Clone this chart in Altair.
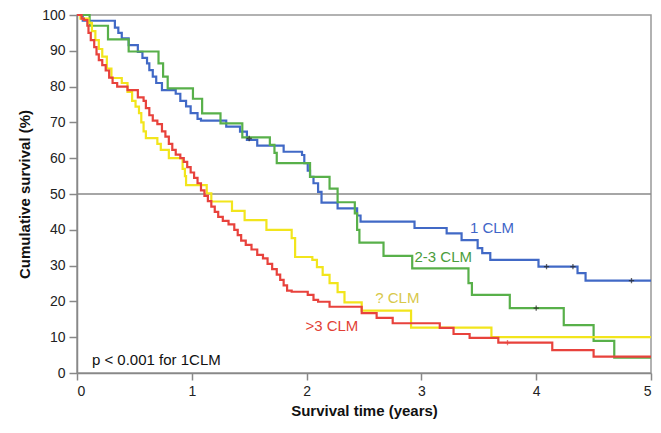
import altair as alt
import pandas as pd

# ---- data ----
blue_t = [0, 0.05, 0.33, 0.36, 0.39, 0.45, 0.53, 0.57, 0.61, 0.63, 0.66, 0.69, 0.74, 0.86, 0.9, 0.95, 0.99, 1.05, 1.08,
          1.3, 1.42, 1.48, 1.57, 1.8, 1.96, 1.98, 2.01, 2.03, 2.06, 2.1, 2.13, 2.27, 2.44, 2.47, 2.94, 3.22, 3.35,
          3.49, 3.53, 3.6, 4.02, 4.36, 4.43, 5.0]
blue_s = [100, 98.4, 96.5, 95, 93.5, 91.6, 89.7, 88, 86.5, 84.6, 82.8, 81, 79, 78, 76, 74.5, 72.6, 71, 70.5,
          68.8, 67.4, 65.1, 63.5, 61.8, 60.9, 58.6, 56.5, 54.8, 53, 50.6, 47.6, 46, 44, 42.3, 40.5, 39, 37.1,
          34.9, 33.5, 31.6, 29.7, 27.9, 25.8, 25.8]

green_t = [0, 0.11, 0.27, 0.45, 0.71, 0.75, 0.79, 1.01, 1.09, 1.25, 1.44, 1.68, 1.72, 1.74, 2.03, 2.2, 2.27, 2.42,
           2.44, 2.46, 2.67, 2.92, 3.41, 3.44, 3.77, 4.24, 4.5, 4.68, 5.0]
green_s = [100, 97, 93.2, 89.8, 86.5, 82.8, 79.5, 76.6, 72.5, 69.7, 65.8, 63.7, 61.5, 58.6, 54.8, 51.5, 47.7, 44.6,
           40, 36.4, 32.7, 29.2, 25.1, 21.8, 18.1, 13.4, 9, 4.3, 4.3]

red_t = [0, 0.04, 0.06, 0.09, 0.1, 0.12, 0.15, 0.17, 0.19, 0.22, 0.25, 0.28, 0.31, 0.35, 0.44, 0.53, 0.58, 0.6,
         0.63, 0.66, 0.7, 0.74, 0.77, 0.8, 0.83, 0.86, 0.9, 0.93, 0.96, 0.99, 1.02, 1.05, 1.08, 1.11, 1.14, 1.17,
         1.2, 1.23, 1.27, 1.32, 1.37, 1.4, 1.43, 1.47, 1.52, 1.57, 1.62, 1.66, 1.7, 1.74, 1.77, 1.8, 1.83, 1.87,
         2.01, 2.06, 2.1, 2.2, 2.48, 2.61, 2.75, 3.16, 3.28, 3.42, 3.67, 4.14, 4.5, 5.0]
red_s = [100, 99, 98.6, 97, 95, 93, 91, 89, 87.4, 86, 84.5, 82.5, 81, 80, 79, 77, 76, 74,
         72, 70.5, 69.5, 67.5, 66, 64, 62.3, 61, 60, 59, 57.5, 56, 54.5, 53, 51, 49.5, 48, 46.5,
         45, 43.6, 42.5, 41.5, 40, 38.5, 37, 35.8, 34.5, 33, 32, 30.5, 29, 27.5, 26, 24.5, 23, 22.7,
         21.8, 20.4, 19.9, 18.5, 16.7, 15.4, 13.9, 12.6, 10.9, 9.8, 8.5, 6.4, 4.6, 4.6]

yellow_t = [0, 0.03, 0.1, 0.13, 0.16, 0.19, 0.22, 0.26, 0.3, 0.39, 0.44, 0.48, 0.51, 0.54, 0.56, 0.58, 0.6, 0.7,
            0.73, 0.8, 0.92, 0.94, 0.95, 1.13, 1.17, 1.35, 1.46, 1.65, 1.87, 1.9, 2.05, 2.09, 2.14, 2.2, 2.27,
            2.33, 2.48, 2.91, 3.61, 5.0]
yellow_s = [100, 99, 97.8, 95.5, 93, 90.5, 88.4, 85, 82.4, 81, 78.5, 76, 74.4, 72.6, 70, 67.5, 65.6, 64,
            62.3, 60, 57, 55, 52.5, 50.2, 47.9, 45.3, 42.7, 40, 37.7, 32.4, 31.6, 29.6, 27.4, 25.1, 22.6,
            19.7, 17.4, 12.7, 10, 10]

series_names = ["1 CLM", "2-3 CLM", "? CLM", ">3 CLM"]
series_colors = ["#4169c6", "#58b04a", "#f2e51c", "#e8423c"]

censor_t = [1.5, 4.09, 4.32, 4.83, 4.0, 3.75]
censor_s = [65.5, 29.7, 29.7, 25.8, 18.1, 8.5]
censor_c = ["#222222", "#222222", "#222222", "#222222", "#222222", "#e8423c"]

label_text = ["1 CLM", "2-3 CLM", "? CLM", ">3 CLM"]
label_t = [3.615, 3.19, 2.79, 2.22]
label_s = [40.5, 32.4, 21.0, 13.1]
label_color = ["#3f66c8", "#4a9d3c", "#d8c84a", "#e23f36"]

p_text = "p < 0.001 for 1CLM"

# ---- tables ----
rows = []
for name, ts, ss in [("1 CLM", blue_t, blue_s), ("2-3 CLM", green_t, green_s),
                     ("? CLM", yellow_t, yellow_s), (">3 CLM", red_t, red_s)]:
    for t, s in zip(ts, ss):
        rows.append({"series": name, "t": t, "s": s})
curves = pd.DataFrame(rows)
censors = pd.DataFrame({"t": censor_t, "s": censor_s, "c": censor_c})
labels = pd.DataFrame({"text": label_text, "t": label_t, "s": label_s, "c": label_color})
ptab = pd.DataFrame({"text": [p_text], "t": [0.13], "s": [3.6]})
ref = pd.DataFrame({"s": [50]})

FONT = "Liberation Sans"

xscale = alt.Scale(domain=[0, 5], nice=False, zero=False)
yscale = alt.Scale(domain=[0, 100], nice=False)

xaxis = alt.Axis(values=[0, 1, 2, 3, 4, 5], format="d", title="Survival time (years)", grid=False,
                 domainColor="#888888", domainWidth=1.5, tickColor="#888888", tickWidth=1.5, tickSize=7,
                 labelFontSize=14, labelColor="#222222", titleFontSize=15, titleFontWeight="bold",
                 titleColor="#111111", labelPadding=4, titlePadding=5)
yaxis = alt.Axis(values=list(range(0, 101, 10)), title="Cumulative survival (%)", grid=False,
                 domainColor="#888888", domainWidth=1.5, tickColor="#888888", tickWidth=1.5, tickSize=8,
                 labelFontSize=14, labelColor="#222222", titleFontSize=15, titleFontWeight="bold",
                 titleColor="#111111", labelPadding=4, titlePadding=9)

refline = alt.Chart(ref).mark_rule(color="#888888", strokeWidth=1.5).encode(
    y=alt.Y("s:Q", scale=yscale, axis=yaxis))

lines = alt.Chart(curves).mark_line(interpolate="step-after", strokeWidth=2.2).encode(
    x=alt.X("t:Q", scale=xscale, axis=xaxis),
    y=alt.Y("s:Q", scale=yscale, axis=yaxis),
    color=alt.Color("series:N", scale=alt.Scale(domain=series_names, range=series_colors), legend=None),
    order=alt.value(0),
)

marks = alt.Chart(censors).mark_point(shape="M-1,0L1,0M0,-1L0,1", size=28, filled=False, strokeWidth=1.3).encode(
    x=alt.X("t:Q", scale=xscale, axis=xaxis),
    y=alt.Y("s:Q", scale=yscale, axis=yaxis),
    stroke=alt.Stroke("c:N", scale=None),
)

text = alt.Chart(labels).mark_text(font=FONT, fontSize=15, align="center", baseline="middle").encode(
    x=alt.X("t:Q", scale=xscale, axis=xaxis),
    y=alt.Y("s:Q", scale=yscale, axis=yaxis),
    text="text:N",
    color=alt.Color("c:N", scale=None),
)

ptext = alt.Chart(ptab).mark_text(font=FONT, fontSize=15, align="left", baseline="middle", color="#111111").encode(
    x=alt.X("t:Q", scale=xscale, axis=xaxis),
    y=alt.Y("s:Q", scale=yscale, axis=yaxis),
    text="text:N",
)

chart = alt.layer(refline, lines, marks, text, ptext).properties(
    width=574, height=358,
    autosize=alt.AutoSizeParams(type="none"),
    padding={"left": 77, "top": 15, "right": 10, "bottom": 60},
    background="white",
).configure_view(stroke="#999999", strokeWidth=1.5).configure_axis(labelFont=FONT, titleFont=FONT)

chart.save("out.html", embed_options={"renderer": "svg", "actions": False})
